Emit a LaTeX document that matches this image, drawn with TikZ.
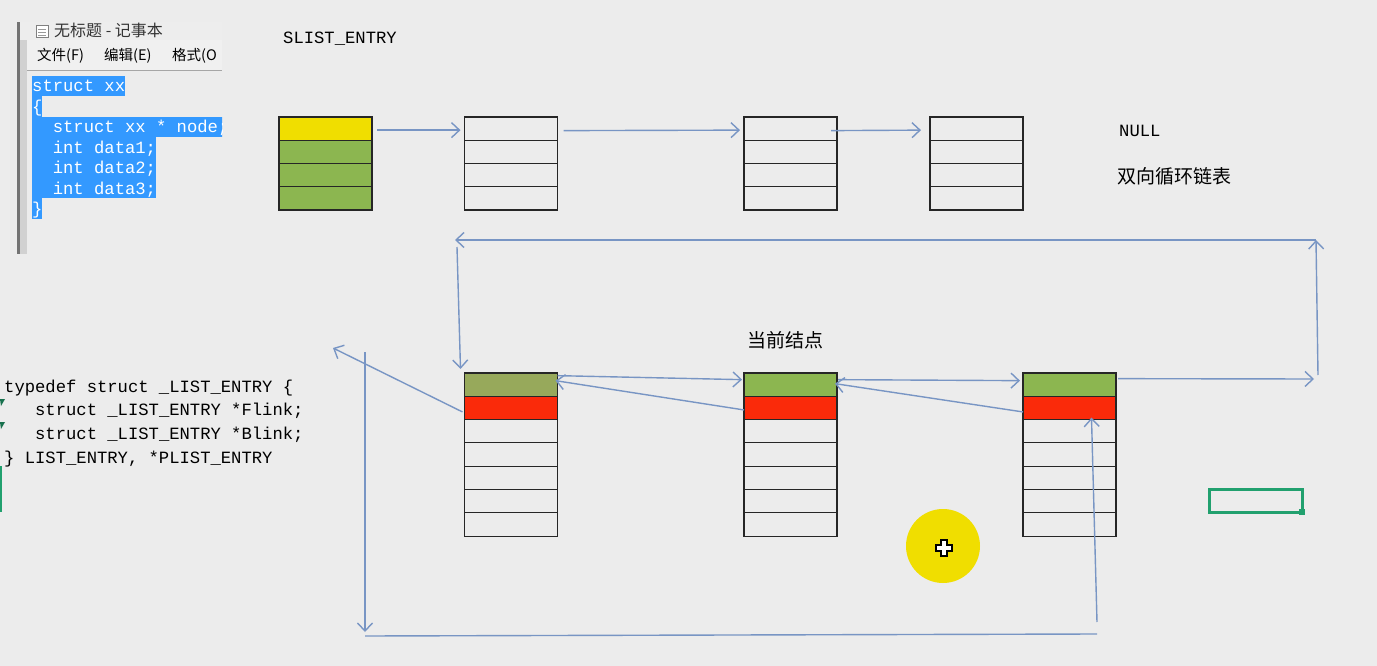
\documentclass[tikz,border=0pt]{standalone}
\usepackage{fontspec}
\setmonofont{Liberation Mono}
\newfontfamily\cjk{Noto Sans CJK SC}
\usetikzlibrary{calc}
\usetikzlibrary{arrows.meta}
\definecolor{bggray}{HTML}{ECECEC}
\definecolor{lkblue}{HTML}{7895C4}
\definecolor{cyel}{HTML}{F0DE00}
\definecolor{cgreen}{HTML}{8CB650}
\definecolor{colive}{HTML}{97A95B}
\definecolor{cred}{HTML}{FA2A0A}
\definecolor{selblue}{HTML}{3399FF}
\definecolor{xlgreen}{HTML}{21A06E}

\begin{document}
\begin{tikzpicture}[x=1pt, y=-1pt,
  cell/.style={draw=black!85, line width=1.1pt, minimum width=93pt, minimum height=23.3pt, inner sep=0, outer sep=0},
  link/.style={lkblue, line width=1.4pt, -{Straight Barb[length=8pt, width=15pt]}},
  wire/.style={lkblue, line width=1.4pt},
  mono/.style={font=\ttfamily\fontsize{17.2}{20}\selectfont, inner sep=0, anchor=base west},
  han/.style={font=\cjk\fontsize{19}{22}\selectfont, inner sep=0, anchor=west}]
\useasboundingbox (0,0) rectangle (1377,666);
\fill[bggray] (0,0) rectangle (1377,666);
% notepad window
\begin{scope}
\clip (16,20) rectangle (222,254);
\fill[black!7] (19,22) rectangle (222,40);
\fill[black!6] (19,40) rectangle (222,70);
\draw[black!35] (27,70.5) -- (222,70.5);
\fill[black!55] (17,22) rectangle (20,254);
\fill[black!18] (20,40) rectangle (27,254);
\draw[black!50, fill=white] (36,25) rectangle (48,37);
\foreach \k in {29,32,35} \draw[black!40] (38,\k) -- (46,\k);
\node[anchor=west, inner sep=0, font=\cjk\fontsize{16}{18}\selectfont, text=black!80] (nptitle) at (54,30) {无标题 - 记事本};
\foreach \t/\x [count=\i] in {文件(F)/37, 编辑(E)/104, 格式(O/172}
  \node[anchor=west, inner sep=0, font=\cjk\fontsize{14.5}{16}\selectfont] (menu\i) at (\x,56) {\t};
\foreach \w/\t [count=\i] in {9/{struct xx}, 1/{\{}, 19/{\ \ struct xx * node;}, 12/{\ \ int data1;}, 12/{\ \ int data2;}, 12/{\ \ int data3;}, 1/{\}}} {
  \fill[selblue] (32,{76+20.4*(\i-1)}) rectangle ({32+10.3*\w},{96.5+20.4*(\i-1)});
  \node[mono, text=white] (np\i) at (32,{92+20.4*(\i-1)}) {\t};
}
\end{scope}

\node[mono] (slist) at (283,44) {SLIST\_ENTRY};
\node[mono] (null) at (1119,137) {NULL};
\node[han] (ring) at (1117,176) {双向循环链表};
\node[han] (cur) at (747,340) {当前结点};
\foreach \t/\x [count=\i] in {{typedef struct \_LIST\_ENTRY \{}/4, {\ \ \ struct \_LIST\_ENTRY *Flink;}/4, {\ \ \ struct \_LIST\_ENTRY *Blink;}/4, {\} LIST\_ENTRY, *PLIST\_ENTRY}/4}
  \node[mono] (td\i) at (\x,{392+23.7*(\i-1)}) {\t};

% singly linked row
\foreach \i/\c in {1/cyel,2/cgreen,3/cgreen,4/cgreen}
  \node[cell, fill=\c] (a\i) at (325.5,{117+23.25*(\i-0.5)}) {};
\foreach \nm/\x in {b/511,c/790.5,d/976.5}
  \foreach \i in {1,...,4}
    \node[cell] (\nm\i) at (\x,{117+23.25*(\i-0.5)}) {};
\draw[link] ($(a1.east)+(5,1.5)$) -- ($(b1.west)+(-4,1.5)$);
\draw[link] ($(b1.east)+(6,2)$) -- ($(c1.west)+(-4,1.5)$);
\draw[link] ($(c1.east)+(-6,2)$) -- ($(d1.west)+(-9,1.5)$);

% doubly linked row
\foreach \nm/\x/\c in {e/511/colive,f/790.5/cgreen,g/1069.5/cgreen} {
  \node[cell, fill=\c] (\nm1) at (\x,384.65) {};
  \node[cell, fill=cred] (\nm2) at (\x,407.95) {};
  \foreach \i in {3,...,7}
    \node[cell] (\nm\i) at (\x,{373+23.3*(\i-0.5)}) {};
}
\draw[link] ($(e1.east)+(0,-9)$) -- ($(f1.west)+(-2,-5)$);
\draw[link] ($(f2.west)+(0,2)$) -- ($(e1.east)+(-2,-4)$);
\draw[link] ($(f1.east)+(1,-5)$) -- ($(g1.west)+(-3,-4)$);
\draw[link] ($(g2.west)+(0,4)$) -- ($(f1.east)+(-2,-1)$);

\coordinate (rt) at (1316,379);
\coordinate (rtop) at (1316,240);
\coordinate (ltop) at (455,240);
\draw[link] ($(g1.east)+(2,-6)$) -- ($(rt)+(-2,0)$);
\draw[link] ($(rt)+(2,-4)$) -- (rtop);
\draw[link] (rtop) -- (ltop);
\draw[link] ($(ltop)+(2,7)$) -- ($(e1.north west)+(-4,-4)$);

\coordinate (lfar) at (333,348);
\coordinate (lt) at (365,352);
\coordinate (lb) at (365,636);
\coordinate (rb) at (1097,634);
\draw[link] ($(e2.west)+(-2,4)$) -- (lfar);
\draw[link] (lt) -- ($(lb)+(0,-4)$);
\draw[wire] (lb) -- (rb);
\draw[link] ($(rb)+(0,-12)$) -- ($(g3.north)+(22,-2)$);

% pointer and selection
\fill[cyel] (943,546) circle (37pt);
\draw[black, fill=white, line width=1.2pt] (944,548) ++(-3,-8) -- ++(6,0) -- ++(0,5) -- ++(5,0) -- ++(0,6) -- ++(-5,0) -- ++(0,5) -- ++(-6,0) -- ++(0,-5) -- ++(-5,0) -- ++(0,-6) -- ++(5,0) -- cycle;
\draw[xlgreen, line width=3pt] (1209,489) rectangle (1302,512);
\fill[xlgreen] (1299,509) rectangle (1305,515);
\fill[xlgreen!70!black] (0,399) -- (5,399) -- (1,406) -- cycle;
\fill[xlgreen!70!black] (0,422) -- (5,422) -- (1,429) -- cycle;
\fill[xlgreen] (0,466) rectangle (2,512);
\end{tikzpicture}
\end{document}
